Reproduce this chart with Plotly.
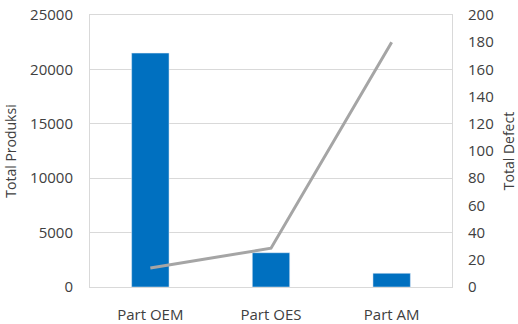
import plotly.graph_objects as go

categories = ["Part OEM", "Part OES", "Part AM"]
total_produksi = [21500, 3150, 1260]
total_defect = [14, 28.5, 180]

font_family = "Open Sans, Noto Sans, sans-serif"
grid = "#D9D9D9"
text_color = "#404040"

fig = go.Figure()
fig.add_trace(go.Bar(x=categories, y=total_produksi, marker_color="#0070C0",
                     width=0.31, name="Total Produksi"))
fig.add_trace(go.Scatter(x=categories, y=total_defect, mode="lines",
                         line=dict(color="#A5A5A5", width=3), yaxis="y2",
                         name="Total Defect"))

fig.update_layout(
    width=518, height=324,
    margin=dict(l=90, r=66, t=15, b=37),
    paper_bgcolor="white", plot_bgcolor="white",
    showlegend=False,
    font=dict(family=font_family, size=15, color=text_color),
    xaxis=dict(showline=True, linecolor=grid, linewidth=1, mirror=True,
               showgrid=False, ticks="outside", ticklen=14, tickcolor="rgba(0,0,0,0)",
               tickfont=dict(size=15, color=text_color), automargin=False),
    yaxis=dict(range=[0, 25000], dtick=5000, showgrid=True, gridcolor=grid,
               showline=True, linecolor=grid, mirror=True, zeroline=False,
               tickformat="d", ticks="outside", ticklen=13, tickcolor="rgba(0,0,0,0)",
               tickfont=dict(size=15), automargin=False,
               title=dict(text="Total Produksi", standoff=10, font=dict(size=14))),
    yaxis2=dict(range=[0, 200], dtick=20, overlaying="y", side="right",
                showgrid=False, zeroline=False, showline=False,
                ticks="outside", ticklen=12, tickcolor="rgba(0,0,0,0)",
                tickfont=dict(size=15), automargin=False,
                title=dict(text="Total Defect", standoff=14, font=dict(size=14))),
)

fig.write_html("out.html")
